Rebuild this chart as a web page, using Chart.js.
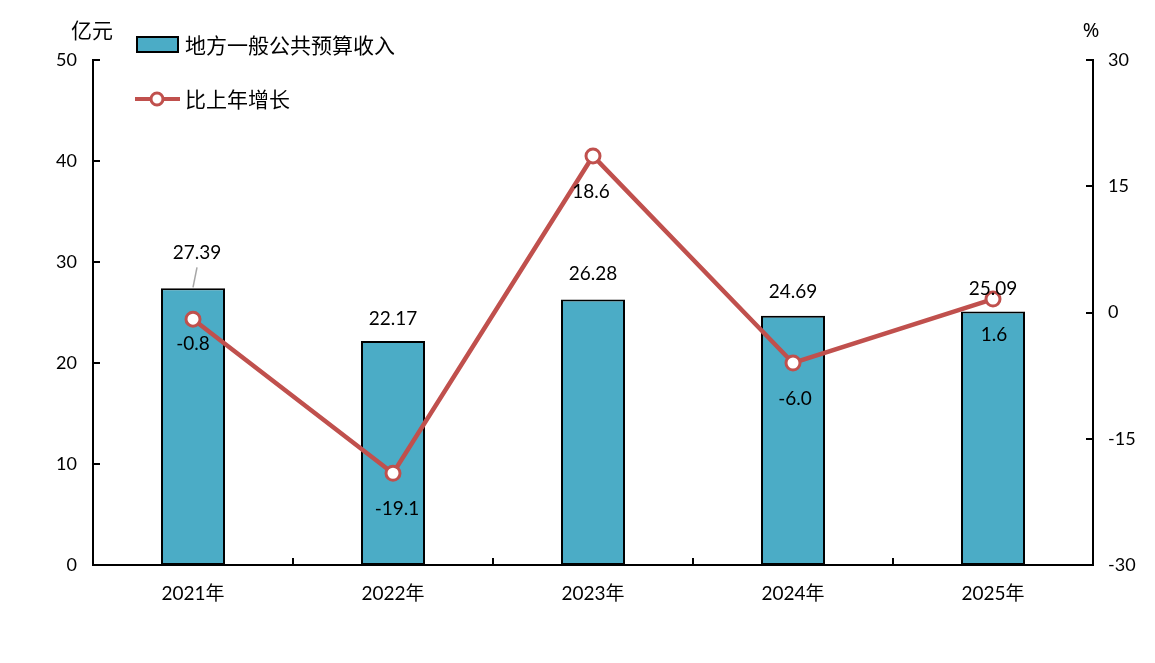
<!DOCTYPE html>
<html>
<head>
<meta charset="utf-8">
<script src="https://cdn.jsdelivr.net/npm/chart.js@4/dist/chart.umd.min.js"></script>
<style>
  html, body { margin: 0; padding: 0; background: #fff; }
  #wrap { width: 1155px; height: 663px; position: relative; }
</style>
</head>
<body>
<div id="wrap"><canvas id="chart"></canvas></div>
<script>
var years = ["2021年", "2022年", "2023年", "2024年", "2025年"];
var revenue = [27.39, 22.17, 26.28, 24.69, 25.09];
var growth = [-0.8, -19.1, 18.6, -6.0, 1.6];
var leftTicks = [0, 10, 20, 30, 40, 50];
var rightTicks = [-30, -15, 0, 15, 30];

// label placement (pixels relative to the mark)
var barLabelOffsets = [[4, -35], [0, -22], [0, -26], [0, -24], [0, -23]];
var lineLabelOffsets = [[0, 25], [4, 36], [-2, 36], [2, 36], [1, 36]];

var BAR_COLOR = "#4BACC6";
var LINE_COLOR = "#C0504D";
var NUM_FONT = "19px Lato, 'Noto Sans CJK SC', sans-serif";
var CJK_FONT = "21px 'Noto Sans CJK SC', sans-serif";

var decorations = {
  id: "decorations",
  afterDraw: function (chart) {
    var ctx = chart.ctx;
    var area = chart.chartArea;
    var y = chart.scales.y, y1 = chart.scales.y1, x = chart.scales.x;

    ctx.save();
    // inward tick marks
    ctx.strokeStyle = "#000";
    ctx.lineWidth = 2;
    ctx.beginPath();
    leftTicks.forEach(function (v) {
      var py = Math.round(y.getPixelForValue(v));
      ctx.moveTo(area.left, py); ctx.lineTo(area.left + 7, py);
    });
    rightTicks.forEach(function (v) {
      var py = Math.round(y1.getPixelForValue(v));
      ctx.moveTo(area.right, py); ctx.lineTo(area.right - 7, py);
    });
    for (var i = 1; i < years.length; i++) {
      var px = Math.round((x.getPixelForValue(i - 1) + x.getPixelForValue(i)) / 2);
      ctx.moveTo(px, area.bottom); ctx.lineTo(px, area.bottom - 7);
    }
    ctx.stroke();

    // axis titles
    ctx.fillStyle = "#000";
    ctx.textAlign = "center";
    ctx.textBaseline = "middle";
    ctx.font = CJK_FONT;
    ctx.fillText("亿元", area.left - 1, 30);
    ctx.font = "20px 'Noto Sans', sans-serif";
    ctx.fillText("%", area.right - 2, 31);

    // legend
    ctx.fillStyle = BAR_COLOR;
    ctx.fillRect(137, 37, 41, 15);
    ctx.strokeStyle = "#000";
    ctx.lineWidth = 2;
    ctx.strokeRect(137, 37, 41, 15);
    ctx.fillStyle = "#000";
    ctx.textAlign = "left";
    ctx.font = CJK_FONT;
    ctx.fillText("地方一般公共预算收入", 185, 45);

    ctx.strokeStyle = LINE_COLOR;
    ctx.lineWidth = 4;
    ctx.beginPath();
    ctx.moveTo(135, 99); ctx.lineTo(180, 99);
    ctx.stroke();
    ctx.beginPath();
    ctx.arc(157, 99, 6, 0, Math.PI * 2);
    ctx.fillStyle = "#fff";
    ctx.fill();
    ctx.lineWidth = 3;
    ctx.stroke();
    ctx.fillStyle = "#000";
    ctx.fillText("比上年增长", 185, 99);

    // data labels
    ctx.font = NUM_FONT;
    ctx.textAlign = "center";
    var bars = chart.getDatasetMeta(0).data;
    bars.forEach(function (bar, i) {
      var lx = bar.x + barLabelOffsets[i][0];
      var ly = bar.y + barLabelOffsets[i][1];
      if (i === 0) {
        ctx.strokeStyle = "#A6A6A6";
        ctx.lineWidth = 1.5;
        ctx.beginPath();
        ctx.moveTo(bar.x, bar.y - 1);
        ctx.lineTo(lx, ly + 14);
        ctx.stroke();
      }
      ctx.fillStyle = "#000";
      ctx.fillText(revenue[i].toFixed(2), lx, ly);
    });
    var pts = chart.getDatasetMeta(1).data;
    pts.forEach(function (p, i) {
      ctx.fillText(growth[i].toFixed(1), p.x + lineLabelOffsets[i][0], p.y + lineLabelOffsets[i][1]);
    });
    ctx.restore();
  }
};

new Chart(document.getElementById("chart"), {
  data: {
    labels: years,
    datasets: [{
      type: "bar",
      label: "地方一般公共预算收入",
      data: revenue,
      yAxisID: "y",
      backgroundColor: BAR_COLOR,
      borderColor: "#000",
      borderWidth: 2,
      borderSkipped: false,
      barPercentage: 0.32,
      categoryPercentage: 1,
      order: 1
    }, {
      type: "line",
      label: "比上年增长",
      data: growth,
      yAxisID: "y1",
      borderColor: LINE_COLOR,
      borderWidth: 4.5,
      pointRadius: 7,
      pointBorderWidth: 3,
      pointBackgroundColor: "#fff",
      pointBorderColor: LINE_COLOR,
      tension: 0,
      order: 0
    }]
  },
  options: {
    responsive: true,
    maintainAspectRatio: false,
    animation: false,
    layout: { padding: { top: 60, left: 0, right: 0, bottom: 0 } },
    plugins: { legend: { display: false }, tooltip: { enabled: false } },
    scales: {
      x: {
        offset: true,
        grid: { display: false, drawTicks: false },
        border: { display: true, color: "#000", width: 2 },
        ticks: { color: "#000", font: { size: 19, family: "Lato, 'Noto Sans CJK SC', sans-serif" }, padding: 17 },
        afterFit: function (s) { s.height = 98; }
      },
      y: {
        position: "left",
        min: 0, max: 50,
        grid: { display: false, drawTicks: false },
        border: { display: true, color: "#000", width: 2 },
        ticks: { stepSize: 10, color: "#000", font: { size: 18, family: "Lato, sans-serif" }, padding: 16 },
        afterFit: function (s) { s.width = 93; }
      },
      y1: {
        position: "right",
        min: -30, max: 30,
        grid: { display: false, drawTicks: false },
        border: { display: true, color: "#000", width: 2 },
        ticks: { stepSize: 15, color: "#000", font: { size: 18, family: "Lato, sans-serif" }, padding: 15 },
        afterFit: function (s) { s.width = 62; }
      }
    }
  },
  plugins: [decorations]
});
</script>
</body>
</html>
